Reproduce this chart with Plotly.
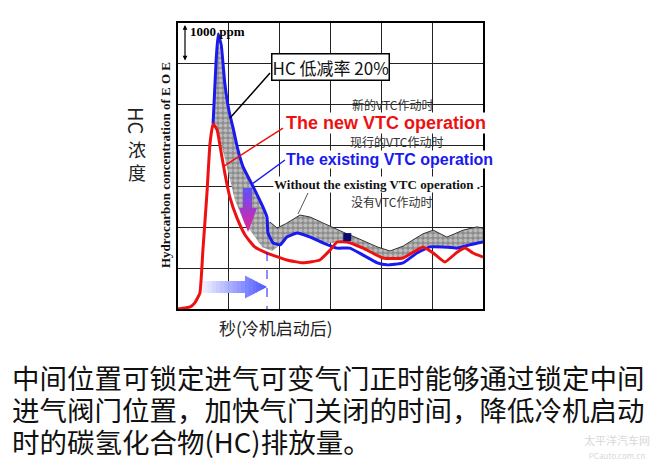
import plotly.graph_objects as go

# time axis in grid units (seconds after cold start), HC in units of 1000 ppm
new_x = [0, 0.24, 0.33, 0.43, 0.49, 0.57, 0.63, 0.69, 0.77, 0.83, 0.92, 1.02, 1.16, 1.32, 1.51,
         1.75, 2.14, 2.46, 2.79, 2.99, 3.13, 3.32, 3.64, 4.03, 4.43, 4.82, 5.02, 5.25, 5.49,
         5.65, 5.80, 6.0]
new_y = [0, 0.05, 0.15, 0.39, 1.44, 2.84, 4.06, 4.53, 4.38, 3.97, 3.33, 2.74, 2.23, 1.81, 1.52,
         1.37, 1.20, 1.13, 1.20, 1.44, 1.64, 1.64, 1.49, 1.25, 1.25, 1.52, 1.37, 1.15, 1.39,
         1.49, 1.37, 1.27]

existing_x = [0.69, 0.75, 0.79, 0.85, 0.92, 1.0, 1.08, 1.18, 1.28, 1.48, 1.67, 1.75, 1.77, 1.87,
              2.01, 2.14, 2.34, 2.60, 2.85, 3.13, 3.38, 3.64, 3.92, 4.11, 4.43, 4.70, 4.96,
              5.21, 5.49, 5.74, 6.0]
existing_y = [4.53, 6.09, 6.73, 6.46, 5.53, 4.87, 4.45, 3.89, 3.48, 2.99, 2.50, 2.25, 1.86, 1.62,
              1.57, 1.76, 1.86, 1.76, 1.62, 1.49, 1.49, 1.32, 1.13, 1.08, 1.13, 1.37, 1.52,
              1.52, 1.49, 1.57, 1.64]

# band "without VTC": upper and lower edges
without_up_x = [0.69, 0.79, 0.92, 1.08, 1.28, 1.48, 1.67, 1.73, 1.81, 1.95, 2.14, 2.40, 2.60,
                2.85, 3.25, 3.52, 3.92, 4.17, 4.43, 4.62, 4.82, 5.02, 5.29, 5.61, 5.88, 6.0]
without_up_y = [4.53, 6.63, 5.53, 4.45, 3.48, 2.99, 2.50, 2.18, 2.13, 1.98, 2.10, 2.30, 2.25,
                2.10, 1.88, 1.74, 1.52, 1.42, 1.54, 1.69, 1.84, 1.93, 1.76, 1.93, 2.01, 1.98]
without_lo_x = [0.69, 0.83, 0.96, 1.12, 1.32, 1.46, 1.65, 1.85, 2.01, 2.14, 2.34, 2.60, 2.85,
                3.13, 3.32, 3.64, 4.03, 4.43, 4.62, 4.82, 5.21, 5.49, 5.74, 6.0]
without_lo_y = [4.53, 4.14, 3.48, 2.67, 2.06, 1.86, 1.52, 1.42, 1.57, 1.76, 1.86, 1.76, 1.62,
                1.62, 1.64, 1.49, 1.27, 1.27, 1.40, 1.52, 1.52, 1.49, 1.57, 1.64]

marker_x = [3.33]
marker_y = [1.76]

caption = ["中间位置可锁定进气可变气门正时能够通过锁定中间",
           "进气阀门位置，加快气门关闭的时间，降低冷机启动",
           "时的碳氢化合物(HC)排放量。"]

RED = "#ee1111"
BLUE = "#1a1aee"
CJK = "Noto Sans CJK SC"
SERIF = "Liberation Serif"


def X(px):
    return (px - 178) / 50.83


def Y(py):
    return (309 - py) / 40.86


def PX(px):
    return (px - 178) / 305


def PY(py):
    return (309 - py) / 286


def rgb(c0, c1, t):
    return "rgb(%d,%d,%d)" % tuple(round(a + (b - a) * t) for a, b in zip(c0, c1))


fig = go.Figure()

fig.add_trace(go.Scatter(
    x=without_up_x + without_lo_x[::-1], y=without_up_y + without_lo_y[::-1],
    fill="toself", mode="lines", line=dict(width=0),
    fillcolor="rgba(0,0,0,0)",
    fillpattern=dict(shape=".", bgcolor="#8c8c8c", fgcolor="#e8e8e8", size=5, solidity=0.55),
    hoverinfo="skip"))
edge = [i for i, v in enumerate(without_up_x) if v >= 1.75]
fig.add_trace(go.Scatter(x=[without_up_x[i] for i in edge], y=[without_up_y[i] for i in edge],
                         mode="lines", line=dict(color="#333333", width=1)))
fig.add_trace(go.Scatter(x=existing_x, y=existing_y, mode="lines",
                         line=dict(color=BLUE, width=3, shape="spline", smoothing=0.4)))
fig.add_trace(go.Scatter(x=new_x, y=new_y, mode="lines",
                         line=dict(color=RED, width=3, shape="spline", smoothing=0.4)))
fig.add_trace(go.Scatter(x=marker_x, y=marker_y, mode="markers",
                         marker=dict(symbol="square", size=8, color="#0a0a70")))

shapes = []
# gradient down arrow
c0, c1 = (95, 80, 250), (240, 30, 150)
n = 6
for i in range(n):
    ya, yb = 188 + 20 * i / n, 188 + 20 * (i + 1) / n
    shapes.append(dict(type="rect", x0=X(243), x1=X(252), y0=Y(ya), y1=Y(yb + 0.5),
                       fillcolor=rgb(c0, c1, (ya - 188) / 44), line=dict(width=0)))
n = 8
for i in range(n):
    ya, yb = 208 + 24 * i / n, 208 + 24 * (i + 1) / n
    wa, wb = 9 * (232 - ya) / 24, 9 * (232 - min(yb + 0.5, 232)) / 24
    path = "M %f %f L %f %f L %f %f L %f %f Z" % (
        X(248 - wa), Y(ya), X(248 + wa), Y(ya), X(248 + wb), Y(min(yb + 0.5, 232)),
        X(248 - wb), Y(min(yb + 0.5, 232)))
    shapes.append(dict(type="path", path=path, fillcolor=rgb(c0, c1, (ya - 188) / 44),
                       line=dict(width=0)))
# gradient right arrow
c0, c1 = (255, 255, 255), (70, 80, 255)
n = 12
for i in range(n):
    xa, xb = 195 + 50 * i / n, 195 + 50 * (i + 1) / n
    shapes.append(dict(type="rect", x0=X(xa), x1=X(xb + 0.5), y0=Y(281), y1=Y(293),
                       fillcolor=rgb(c0, c1, (xa - 195) / 72), line=dict(width=0),
                       layer="between"))
n = 6
for i in range(n):
    xa, xb = 245 + 22 * i / n, 245 + 22 * (i + 1) / n
    ha, hb = 11.5 * (267 - xa) / 22, 11.5 * (267 - min(xb + 0.5, 267)) / 22
    path = "M %f %f L %f %f L %f %f L %f %f Z" % (
        X(xa), Y(287 - ha), X(xa), Y(287 + ha), X(min(xb + 0.5, 267)), Y(287 + hb),
        X(min(xb + 0.5, 267)), Y(287 - hb))
    shapes.append(dict(type="path", path=path, fillcolor=rgb(c0, c1, (xa - 195) / 72),
                       line=dict(width=0), layer="between"))
# dashed marker line
shapes.append(dict(type="line", x0=X(267), x1=X(267), y0=Y(252), y1=0,
                   line=dict(color=BLUE, width=1, dash="dash")))
# leader lines
shapes.append(dict(type="line", x0=X(270), y0=Y(73), x1=X(230), y1=Y(118),
                   line=dict(color="black", width=1.5)))
shapes.append(dict(type="line", x0=X(283), y0=Y(128), x1=X(224), y1=Y(166),
                   line=dict(color=RED, width=1.5)))
shapes.append(dict(type="line", x0=X(285), y0=Y(160), x1=X(252), y1=Y(184),
                   line=dict(color=BLUE, width=1.5)))
shapes.append(dict(type="line", x0=X(308), y0=Y(193), x1=X(298), y1=Y(214),
                   line=dict(color="#555555", width=1)))

ann = []


def text(t, px, py, size, color="#111111", family=CJK, anchor="center", **kw):
    ann.append(dict(text=t, x=PX(px), y=PY(py), xref="paper", yref="paper", showarrow=False,
                    xanchor=anchor, yanchor="middle", font=dict(size=size, color=color,
                                                                 family=family), **kw))


# 1000 ppm scale arrow
ann.append(dict(text="", x=X(185), y=Y(25), ax=X(185), ay=Y(62), xref="x", yref="y",
                axref="x", ayref="y", showarrow=True, arrowhead=2, arrowside="end+start",
                arrowwidth=1.2, arrowsize=0.8, arrowcolor="black"))
text("<b>1000 ppm</b>", 188, 32, 13, "black", SERIF, "left")
text("HC 低减率 20%", 330, 67, 17, "#111111", CJK, bordercolor="black", borderwidth=1.5,
     bgcolor="white", borderpad=0)
text("新的VTC作动时", 392, 105, 12, "#333333")
text("<b>The new VTC operation</b>", 285, 123, 18, RED, "Liberation Sans", "left",
     bgcolor="white", borderpad=0)
text("现行的VTC作动时", 396, 141, 12, "#333333")
text("<b>The existing VTC operation</b>", 285, 159, 16, BLUE, "Liberation Sans", "left",
     bgcolor="white", borderpad=0)
text("<b>Without the existing VTC operation .</b>", 273, 184, 13, "#111111", SERIF, "left",
     bgcolor="white", borderpad=0)
text("没有VTC作动时", 391, 201, 12, "#333333")

# axis labels
text("HC", 137, 121, 20, "#222222", textangle=90)
text("浓<br>度", 137, 160, 18, "#222222")
text("<b>Hydrocarbon concentration of E O E</b>", 165, 165, 13, "#111111", SERIF,
     textangle=-90)
text("秒(冷机启动后)", 276, 327, 17, "#222222")

# caption: line pitch follows the base size (24.6 * 1.3 = 32px), glyphs at 27.5px
text("<br>".join("<span style='font-size:27.5px'>%s</span>" % s for s in caption),
     10, 409, 24.6, "#111111", CJK, "left", align="left")

text("太平洋汽车网<br><span style='font-size:8px'>PCauto.com.cn</span>", 617, 446, 11,
     "#d8d8d8")

fig.update_layout(
    width=660, height=464, margin=dict(l=178, r=177, t=23, b=155),
    paper_bgcolor="white", plot_bgcolor="white", showlegend=False,
    shapes=shapes, annotations=ann,
    xaxis=dict(range=[0, 6], dtick=1, showgrid=True, gridcolor="#222222", gridwidth=1,
               zeroline=False, showticklabels=False, ticks="", showline=True,
               linecolor="black", linewidth=2, mirror=True),
    yaxis=dict(range=[0, 7], dtick=1, showgrid=True, gridcolor="#222222", gridwidth=1,
               zeroline=False, showticklabels=False, ticks="", showline=True,
               linecolor="black", linewidth=2, mirror=True),
)

fig.write_html("out.html", config={"displayModeBar": False},
               post_script="document.body.style.margin='0';")
